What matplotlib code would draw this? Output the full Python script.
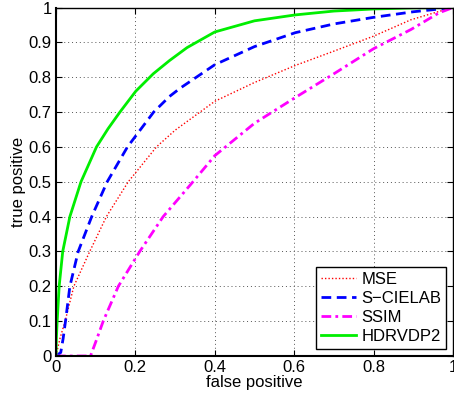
import matplotlib
matplotlib.use("Agg")
import matplotlib.pyplot as plt

plt.rcParams['font.family'] = ['Liberation Sans', 'DejaVu Sans']

# MSE (red dotted)
mse_fp = [0.0, 0.01, 0.023, 0.045, 0.085, 0.127, 0.182, 0.253, 0.3, 0.4, 0.5, 0.603, 0.7, 0.8, 0.894, 0.965, 1.0]
mse_tp = [0.0, 0.05, 0.1, 0.2, 0.3, 0.4, 0.5, 0.6, 0.648, 0.731, 0.785, 0.834, 0.875, 0.918, 0.965, 0.989, 1.0]

# S-CIELAB (blue dashed)
sc_fp = [0.0, 0.012, 0.018, 0.024, 0.035, 0.056, 0.090, 0.129, 0.18, 0.246, 0.286, 0.312, 0.4, 0.5, 0.603, 0.7, 0.8, 0.9, 1.0]
sc_tp = [0.0, 0.01, 0.05, 0.1, 0.2, 0.3, 0.4, 0.5, 0.6, 0.7, 0.745, 0.768, 0.836, 0.888, 0.928, 0.953, 0.972, 0.988, 1.0]

# SSIM (magenta dash-dot)
ss_fp = [0.0, 0.087, 0.1, 0.119, 0.157, 0.211, 0.27, 0.345, 0.4, 0.5, 0.603, 0.7, 0.8, 0.894, 0.965, 1.0]
ss_tp = [0.0, 0.0, 0.04, 0.1, 0.2, 0.3, 0.4, 0.5, 0.575, 0.668, 0.742, 0.81, 0.882, 0.937, 0.985, 1.0]

# HDRVDP2 (green solid)
hd_fp = [0.0, 0.001, 0.003, 0.008, 0.017, 0.035, 0.063, 0.102, 0.131, 0.161, 0.201, 0.245, 0.286, 0.33, 0.4, 0.5, 0.603, 0.7, 0.8, 0.9, 1.0]
hd_tp = [0.0, 0.05, 0.1, 0.2, 0.3, 0.4, 0.5, 0.6, 0.652, 0.7, 0.76, 0.81, 0.848, 0.885, 0.93, 0.962, 0.979, 0.99, 0.996, 0.999, 1.0]

series_names = ['MSE', 'S\u2212CIELAB', 'SSIM', 'HDRVDP2']
x_ticks = [0, 0.2, 0.4, 0.6, 0.8, 1]
x_tick_labels = ['0', '0.2', '0.4', '0.6', '0.8', '1']
y_ticks = [0, 0.1, 0.2, 0.3, 0.4, 0.5, 0.6, 0.7, 0.8, 0.9, 1]
y_tick_labels = ['0', '0.1', '0.2', '0.3', '0.4', '0.5', '0.6', '0.7', '0.8', '0.9', '1']

fig = plt.figure(figsize=(4.54, 3.99), dpi=100)
ax = fig.add_axes([0.1233, 0.1078, 0.8745, 0.8732])

ax.plot(mse_fp, mse_tp, color='#ff0000', linestyle=(0, (1, 1.5)), linewidth=1.0, label=series_names[0])
ax.plot(sc_fp, sc_tp, color='#0000ff', linestyle=(0, (3.5, 2)), linewidth=2.0, label=series_names[1])
ax.plot(ss_fp, ss_tp, color='#ff00ff', linestyle=(0, (3.5, 1.5, 1, 1.5)), linewidth=2.0, label=series_names[2])
ax.plot(hd_fp, hd_tp, color='#00ee00', linestyle='-', linewidth=2.0, label=series_names[3])

ax.set_xlim(0, 1)
ax.set_ylim(0, 1)
ax.set_xticks(x_ticks)
ax.set_xticklabels(x_tick_labels)
ax.set_yticks(y_ticks)
ax.set_yticklabels(y_tick_labels)
ax.tick_params(direction='in', labelsize=12, length=4, top=True, right=True, pad=3)
ax.grid(True, linestyle=(0, (1, 3)), color='#555555', linewidth=0.7)
for s in ax.spines.values():
    s.set_linewidth(1.0)
ax.spines['left'].set_linewidth(1.5)
ax.spines['bottom'].set_linewidth(1.5)

ax.set_xlabel('false positive', fontsize=12, labelpad=0)
ax.set_ylabel('true positive', fontsize=12, labelpad=2)

leg = ax.legend(loc='lower right', fontsize=12, frameon=True, fancybox=False,
                edgecolor='black', framealpha=1, handlelength=2.1, borderpad=0.3,
                labelspacing=0.25, handletextpad=0.3, borderaxespad=0.4)
leg.get_frame().set_linewidth(1.0)

fig.savefig('out.png', dpi=100)
